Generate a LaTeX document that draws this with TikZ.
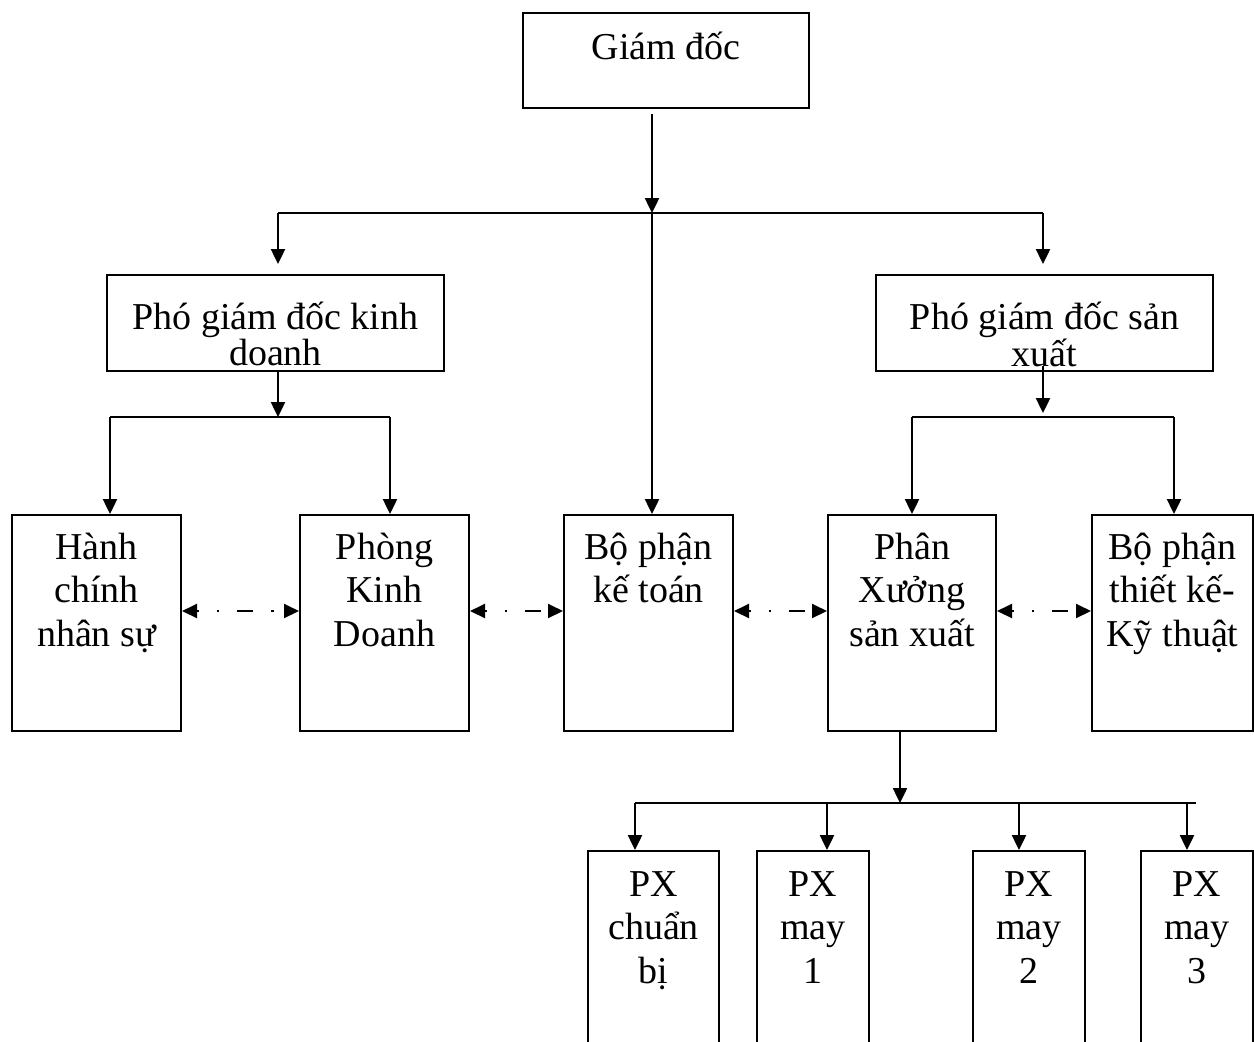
\documentclass[tikz,border=0pt]{standalone}
\usepackage{fontspec}
\setmainfont{Liberation Serif}
\usetikzlibrary{arrows.meta}

\newcommand{\boxfont}[1]{\fontsize{19}{#1}\selectfont}

\tikzset{
  box/.style={draw, line width=1pt, anchor=north west, inner sep=0pt, align=flush center},
  topbox/.style={box, text width=143pt, text height=23pt, text depth=24.5pt,
    font=\boxfont{21.75}},
  vicebox/.style={box, text width=168.5pt, text height=27pt, text depth=21pt,
    font=\boxfont{16}},
  rowbox/.style={box, text width=#1, text height=22pt, text depth=86pt,
    font=\boxfont{21.75}},
  pxbox/.style={box, text width=#1, text height=22.5pt, text depth=100pt,
    font=\boxfont{21.75}},
  link/.style={line width=1.2pt},
  arr/.style={link, -{Triangle[length=7.5pt,width=7pt]}},
  dashlink/.style={line width=1pt, dash pattern=on 1.2pt off 9pt on 8pt off 9pt,
    dash phase=17pt, {Triangle[length=7.5pt,width=7pt]}-{Triangle[length=7.5pt,width=7pt]}}
}

\begin{document}
\begin{tikzpicture}[x=0.5pt, y=-0.5pt]
    \useasboundingbox (0,0) rectangle (1254,1041);
    \clip (0,0) rectangle (1254,1041);

    % Boxes
    \node[topbox] (gd) at (522,12) {Giám đốc};
    \node[vicebox] (pgdkd) at (106,274) {Phó giám đốc kinh\\doanh};
    \node[vicebox] (pgdsx) at (875,274) {Phó giám đốc sản\\xuất};

    \node[rowbox=84.5pt] (hcns) at (11,514) {Hành\\chính\\nhân sự};
    \node[rowbox=84.5pt] (pkd) at (299,514) {Phòng\\Kinh\\Doanh};
    \node[rowbox=84.5pt] (bpkt) at (563,514) {Bộ phận\\kế toán};
    \node[rowbox=84pt] (pxsx) at (827,514) {Phân\\Xưởng\\sản xuất};
    \node[rowbox=80.5pt] (bptk) at (1091,514) {Bộ phận\\thiết kế-\\Kỹ thuật};

    \node[pxbox=65.5pt] (pxcb) at (587,850) {PX\\chuẩn\\bị};
    \node[pxbox=56pt] (pxm1) at (756,850) {PX\\may\\1};
    \node[pxbox=56pt] (pxm2) at (972,850) {PX\\may\\2};
    \node[pxbox=56pt] (pxm3) at (1140,850) {PX\\may\\3};

    % Junction points
    \coordinate (j1) at (652,213);
    \coordinate (j1l) at (278,213);
    \coordinate (j1r) at (1043,213);
    \coordinate (j2) at (278,417);
    \coordinate (j2l) at (110,417);
    \coordinate (j2r) at (390,417);
    \coordinate (j3) at (1043,417);
    \coordinate (j3l) at (912,417);
    \coordinate (j3r) at (1174,417);
    \coordinate (j4) at (900,803);
    \coordinate (j4a) at (635,803);
    \coordinate (j4b) at (827,803);
    \coordinate (j4c) at (1019,803);
    \coordinate (j4d) at (1187,803);
    \coordinate (j4e) at (1196,803);

    % Director level
    \draw[arr] (j1 |- gd.south) ++(0,5) -- (j1);
    \draw[link] (j1l) -- (j1r);
    \draw[arr, shorten >=5pt] (j1l) -- (j1l |- pgdkd.north);
    \draw[arr, shorten >=5pt] (j1r) -- (j1r |- pgdsx.north);
    \draw[arr] (j1) -- (j1 |- bpkt.north);

    % Vice director kinh doanh
    \draw[arr] (j2 |- pgdkd.south) -- (j2);
    \draw[link] (j2l) -- (j2r);
    \draw[arr] (j2l) -- (j2l |- hcns.north);
    \draw[arr] (j2r) -- (j2r |- pkd.north);

    % Vice director san xuat
    \draw[arr] ([yshift=3pt]j3 |- pgdsx.south) -- ([yshift=2pt]j3);
    \draw[link] (j3l) -- (j3r);
    \draw[arr] (j3l) -- (j3l |- pxsx.north);
    \draw[arr] (j3r) -- (j3r |- bptk.north);

    % Cooperation links
    \draw[dashlink] ([yshift=6pt]hcns.east) -- ([yshift=6pt]pkd.west);
    \draw[dashlink] ([yshift=6pt]pkd.east) -- ([yshift=6pt]bpkt.west);
    \draw[dashlink] ([yshift=6pt]bpkt.east) -- ([yshift=6pt]pxsx.west);
    \draw[dashlink] ([yshift=6pt]pxsx.east) -- ([yshift=6pt]bptk.west);

    % Workshops
    \draw[arr] (j4 |- pxsx.south) -- (j4);
    \draw[link] (j4a) -- (j4e);
    \draw[arr] (j4a) -- (j4a |- pxcb.north);
    \draw[arr] (j4b) -- (j4b |- pxm1.north);
    \draw[arr] (j4c) -- (j4c |- pxm2.north);
    \draw[arr] (j4d) -- (j4d |- pxm3.north);
\end{tikzpicture}
\end{document}
